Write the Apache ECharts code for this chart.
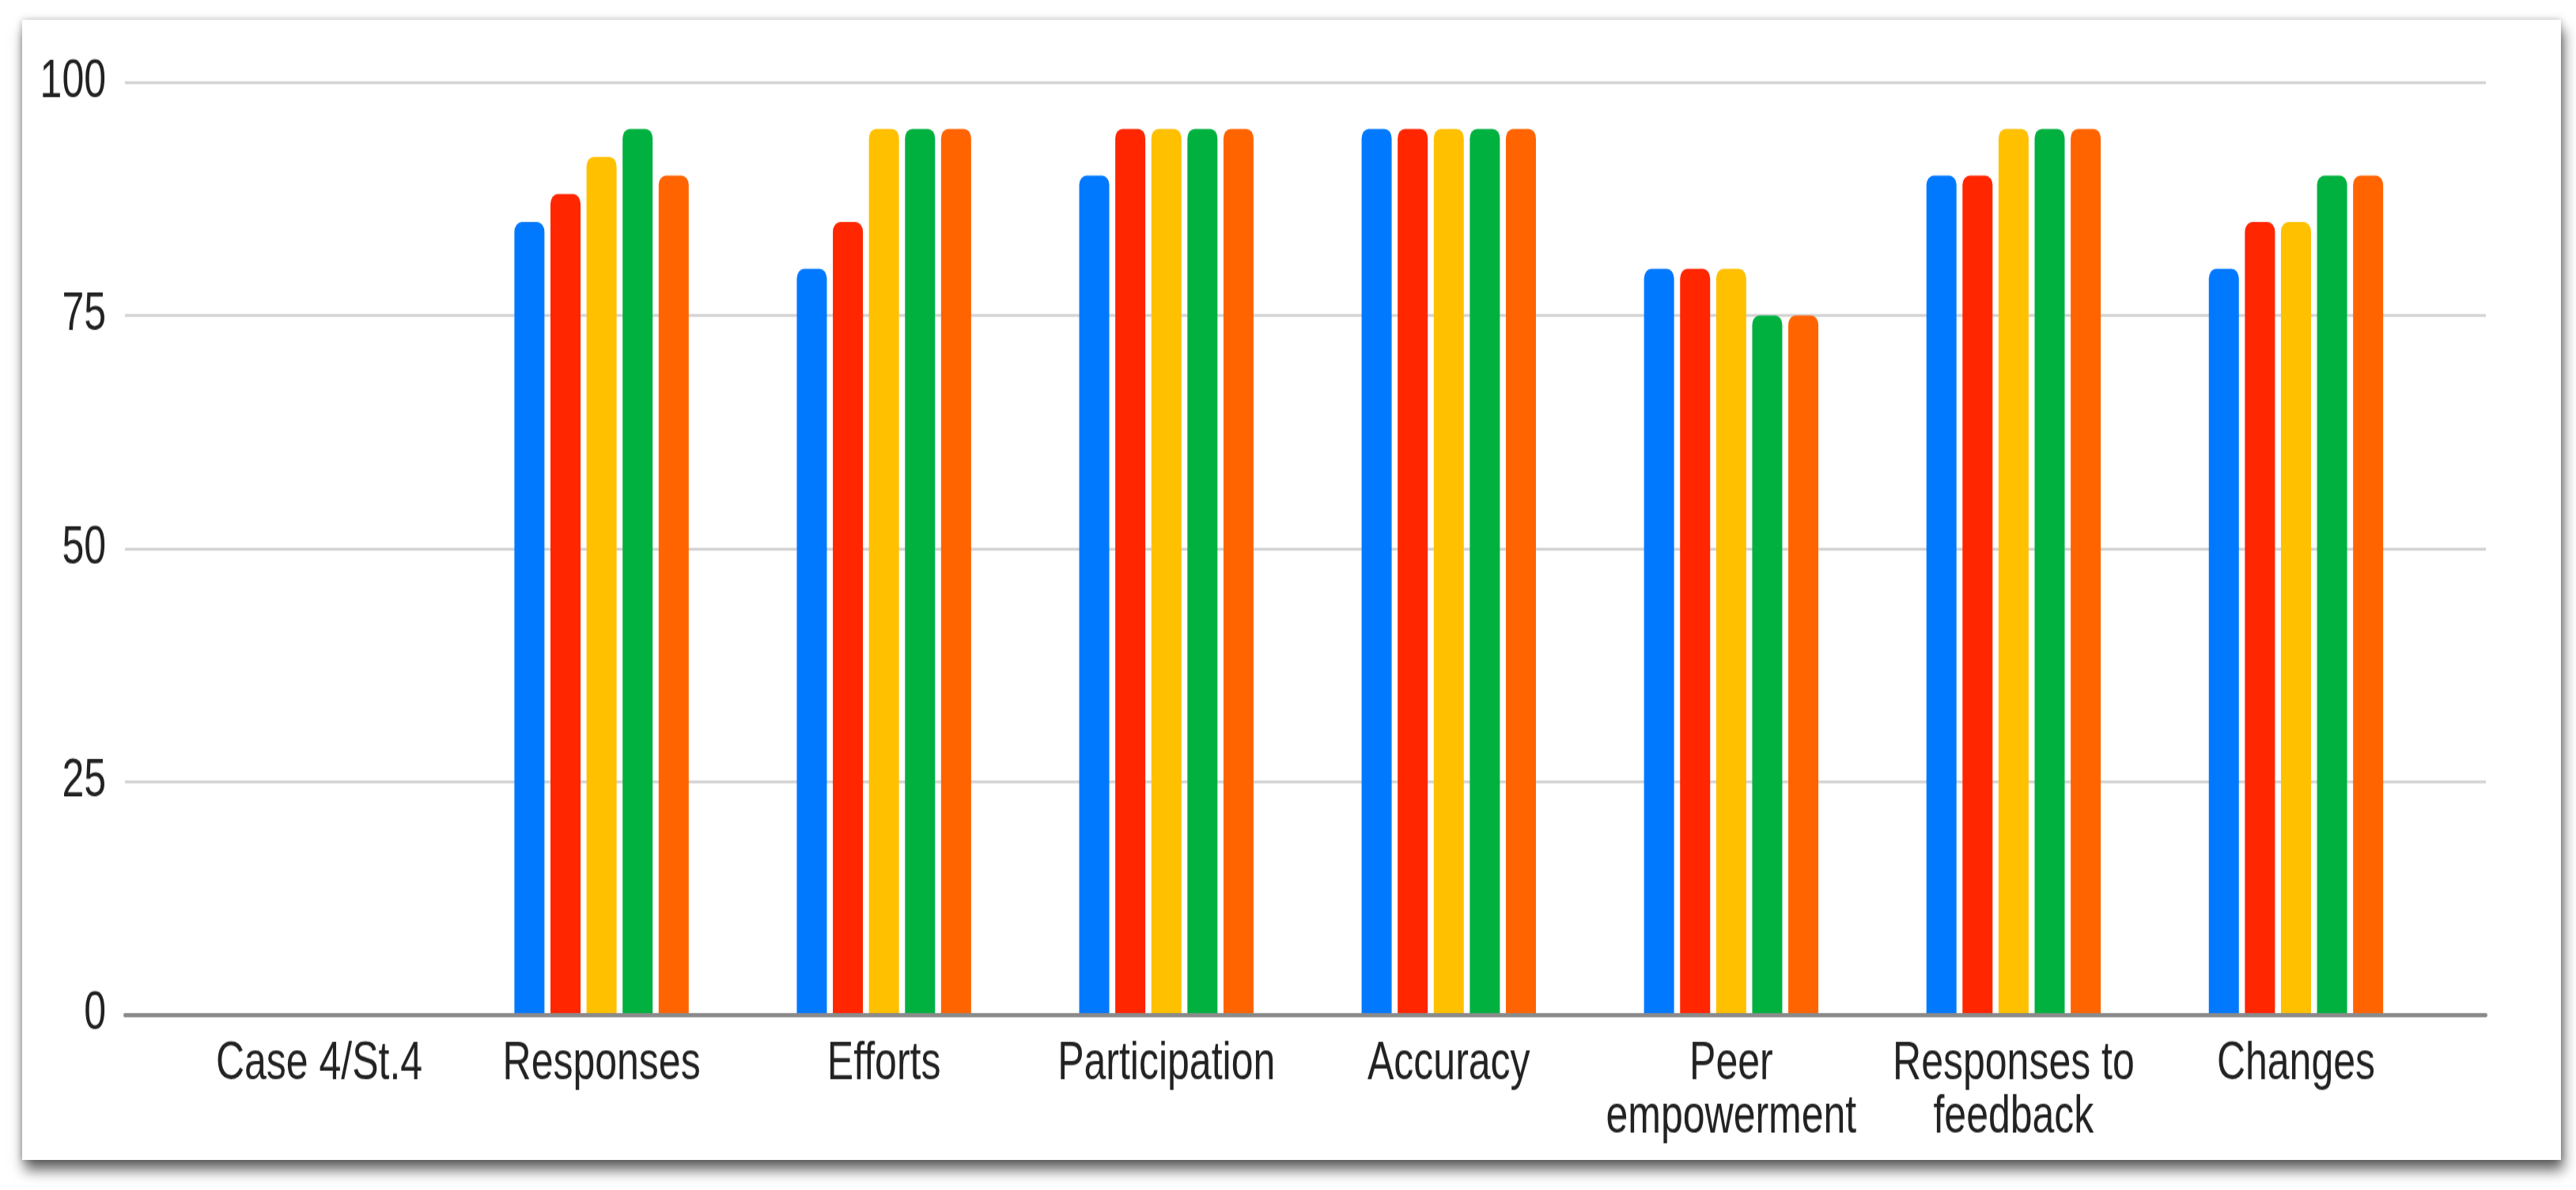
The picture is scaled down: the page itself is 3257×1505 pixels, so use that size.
<!DOCTYPE html>
<html>
<head>
<meta charset="utf-8">
<script src="https://cdn.jsdelivr.net/npm/echarts@6/dist/echarts.min.js"></script>
<style>
  html, body { margin: 0; padding: 0; background: #ffffff; width: 3257px; height: 1505px; overflow: hidden; }
  #card { position: absolute; left: 28px; top: 25px; width: 3210px; height: 1442px; background: #ffffff;
          box-shadow: 3px 13px 16px rgba(0,0,0,0.6), 0 0 8px rgba(0,0,0,0.25); }
  #chart { position: absolute; left: 0; top: 0; width: 3257px; height: 1114.8px;
           transform: scaleY(1.35); transform-origin: 0 0; }
</style>
</head>
<body>
<div id="card"></div>
<div id="chart"></div>
<script>
const categories = ['Case 4/St.4', 'Responses', 'Efforts', 'Participation', 'Accuracy', 'Peer\nempowerment', 'Responses to\nfeedback', 'Changes'];
const yTicks = [0, 25, 50, 75, 100];
const series1 = [null, 85, 80, 90, 95, 80, 90, 80];
const series2 = [null, 88, 85, 95, 95, 80, 90, 85];
const series3 = [null, 92, 95, 95, 95, 80, 95, 85];
const series4 = [null, 95, 95, 95, 95, 75, 95, 90];
const series5 = [null, 90, 95, 95, 95, 75, 95, 90];
const seriesNames = ['Series 1', 'Series 2', 'Series 3', 'Series 4', 'Series 5'];
const colors = ['#0079FF', '#FF2600', '#FFC000', '#00B140', '#FF6400'];

const font = '"Liberation Sans", Arial, sans-serif';
const chart = echarts.init(document.getElementById('chart'), null, { renderer: 'canvas' });
const allSeries = [series1, series2, series3, series4, series5].map((d, i) => ({
  name: seriesNames[i],
  type: 'bar',
  xAxisIndex: 1,
  yAxisIndex: 1,
  data: d,
  barWidth: 38,
  barGap: '20%',
  itemStyle: { color: colors[i], borderRadius: [9, 9, 0, 0] },
  z: 2
}));

chart.setOption({
  backgroundColor: 'transparent',
  animation: false,
  grid: [
    { left: 158, right: 114, top: 77.04, bottom: 164.44 },
    { left: 225, right: 175.5, top: 77.04, bottom: 164.44 }
  ],
  xAxis: [
    { gridIndex: 0, type: 'category', data: [''], axisLabel: { show: false }, axisTick: { show: false },
      axisLine: { show: true, lineStyle: { color: '#8a8a8a', width: 4 } }, z: 5 },
    { gridIndex: 1, type: 'category', data: categories,
      axisLine: { show: false }, axisTick: { show: false },
      axisLabel: { interval: 0, margin: 22, color: '#222', fontFamily: font, fontSize: 50, lineHeight: 50 } }
  ],
  yAxis: [
    { gridIndex: 0, type: 'value', min: yTicks[0], max: yTicks[yTicks.length - 1], interval: 25,
      axisLine: { show: false }, axisTick: { show: false },
      axisLabel: { margin: 24, color: '#222', fontFamily: font, fontSize: 50 },
      splitLine: { show: true, lineStyle: { color: '#d0d0d0', width: 2.5 } } },
    { gridIndex: 1, type: 'value', min: yTicks[0], max: yTicks[yTicks.length - 1], interval: 25,
      axisLine: { show: false }, axisTick: { show: false }, axisLabel: { show: false }, splitLine: { show: false } }
  ],
  series: allSeries
});
</script>
</body>
</html>
